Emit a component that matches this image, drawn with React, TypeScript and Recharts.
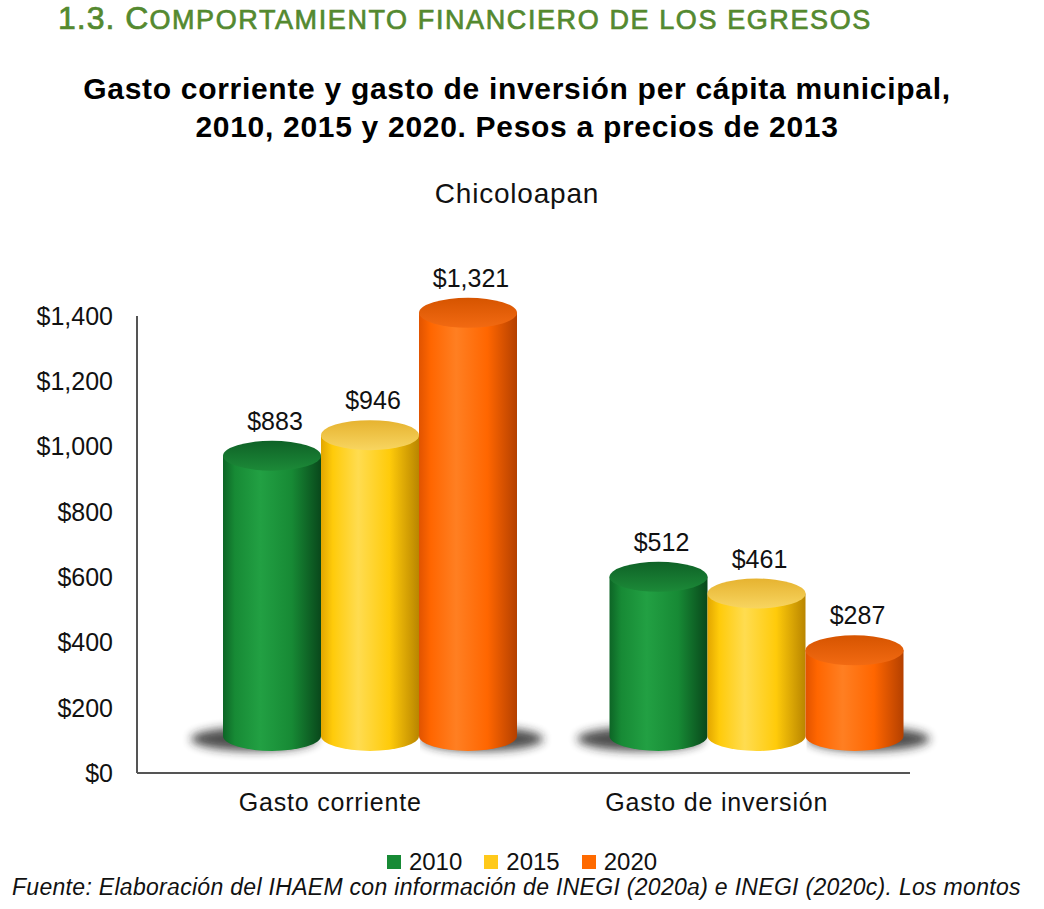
import React from "react";
import { BarChart, Bar, XAxis, YAxis, LabelList } from "recharts";

const categories = ["Gasto corriente", "Gasto de inversión"];
const years = ["2010", "2015", "2020"];
const values2010 = [883, 512];
const values2015 = [946, 461];
const values2020 = [1321, 287];
const yTicks = [0, 200, 400, 600, 800, 1000, 1200, 1400];

const seriesValues = [values2010, values2015, values2020];

const data = categories.map((name, i) => {
    const row: Record<string, string | number> = { name };
    years.forEach((yr, k) => {
        row["y" + yr] = seriesValues[k][i];
    });
    return row;
});

// colours for the cylinders; shadow = which side the floor shadow spills out
const palettes = [
    { key: "2010", shadow: "left", swatch: "#178a35", edgeL: "#0d6526", hi: "#22a043", body: "#178a35", edgeR: "#09481b", topA: "#1c8a38", topB: "#0f6227" },
    { key: "2015", shadow: "none", swatch: "#ffc91a", edgeL: "#e2a600", hi: "#ffdc50", body: "#ffcb0a", edgeR: "#b98500", topA: "#f8d560", topB: "#e6b330" },
    { key: "2020", shadow: "right", swatch: "#ff6a00", edgeL: "#e05300", hi: "#ff7f22", body: "#ff6600", edgeR: "#b44000", topA: "#f26a12", topB: "#d65400" },
];

const DX = 40; // 3D offset of the cylinders
const TOP_DY = -29;
const BOT_DY = -37;
const RY = 15;

const fontFamily = "'Liberation Sans', Arial, Helvetica, sans-serif";

function Cylinder(props: any) {
    const { x, y, width, height, pal, index } = props;
    if (width == null || height == null) return null;
    const x0 = x + DX;
    const x1 = x0 + width;
    const rx = width / 2;
    const yT = y + TOP_DY;
    const yB = y + height + BOT_DY;
    const id = "cyl" + pal.key;
    const clipId = id + "c" + index;

    let shadow = null;
    if (pal.shadow === "left") {
        shadow = (
            <ellipse cx={x0 + rx - 18} cy={yB + 3} rx={rx + 14} ry={12} fill="#222" opacity={0.8} filter="url(#cylShadow)" />
        );
    } else if (pal.shadow === "right") {
        shadow = (
            <g clipPath={`url(#${clipId})`}>
                <ellipse cx={x0 + rx + 14} cy={yB + 3} rx={rx + 12} ry={12} fill="#222" opacity={0.8} filter="url(#cylShadow)" />
            </g>
        );
    }

    return (
        <g>
            <defs>
                <linearGradient id={id + "b"} x1="0" y1="0" x2="1" y2="0">
                    <stop offset="0%" stopColor={pal.edgeL} />
                    <stop offset="12%" stopColor={pal.body} />
                    <stop offset="38%" stopColor={pal.hi} />
                    <stop offset="70%" stopColor={pal.body} />
                    <stop offset="100%" stopColor={pal.edgeR} />
                </linearGradient>
                <linearGradient id={id + "t"} x1="0" y1="0" x2="0" y2="1">
                    <stop offset="0%" stopColor={pal.topB} />
                    <stop offset="100%" stopColor={pal.topA} />
                </linearGradient>
                <filter id="cylShadow" x="-50%" y="-100%" width="200%" height="300%">
                    <feGaussianBlur stdDeviation="5" />
                </filter>
                <clipPath id={clipId}>
                    <rect x={x0 + 1} y={yB - 40} width={width + 60} height={80} />
                </clipPath>
            </defs>
            {shadow}
            <path
                d={`M${x0},${yT} L${x0},${yB} A${rx},${RY} 0 0 0 ${x1},${yB} L${x1},${yT} Z`}
                fill={`url(#${id}b)`}
            />
            <ellipse cx={x0 + rx} cy={yT} rx={rx} ry={RY} fill={`url(#${id}t)`} />
        </g>
    );
}

function ValueLabel(props: any) {
    const { x, y, width, value } = props;
    return (
        <text
            x={x + DX + width / 2 + 3}
            y={y + TOP_DY - 26}
            textAnchor="middle"
            fontSize={25}
            fontFamily={fontFamily}
            fill="#111"
        >
            {"$" + Number(value).toLocaleString("en-US")}
        </text>
    );
}

const money = (v: number) => "$" + v.toLocaleString("en-US");

export default function App() {
    return (
        <div
            style={{
                position: "absolute",
                left: 0,
                top: 0,
                width: 1044,
                height: 909,
                background: "#fff",
                fontFamily,
                overflow: "hidden",
            }}
        >
            <div
                style={{
                    position: "absolute",
                    left: 58,
                    top: 0,
                    color: "#54892f",
                    whiteSpace: "nowrap",
                    WebkitTextStroke: "0.7px #54892f",
                }}
            >
                <span style={{ fontSize: 32, letterSpacing: 1 }}>1.3. C</span>
                <span style={{ fontSize: 27, textTransform: "uppercase", letterSpacing: 1.6 }}>
                    omportamiento financiero de los egresos
                </span>
            </div>
            <div
                style={{
                    position: "absolute",
                    left: 0,
                    width: 1034,
                    top: 70,
                    textAlign: "center",
                    fontWeight: "bold",
                    fontSize: 30,
                    letterSpacing: 0.7,
                    lineHeight: "38px",
                    color: "#000",
                }}
            >
                Gasto corriente y gasto de inversión per cápita municipal,
                <br />
                2010, 2015 y 2020. Pesos a precios de 2013
            </div>
            <div
                style={{
                    position: "absolute",
                    left: 0,
                    width: 1034,
                    top: 178,
                    textAlign: "center",
                    fontSize: 28,
                    letterSpacing: 0.8,
                    color: "#111",
                }}
            >
                Chicoloapan
            </div>

            <div style={{ position: "absolute", left: 0, top: 0 }}>
                <BarChart
                    width={1044}
                    height={909}
                    data={data}
                    margin={{ top: 316, right: 134, bottom: 106, left: 37 }}
                    barGap={0}
                    barSize={98}
                >
                    <XAxis
                        dataKey="name"
                        height={30}
                        tickLine={false}
                        tickSize={0}
                        tickMargin={20}
                        axisLine={{ stroke: "#555", strokeWidth: 2 }}
                        tick={{ fill: "#111", fontSize: 25, fontFamily, letterSpacing: 0.8 }}
                    />
                    <YAxis
                        width={100}
                        domain={[0, 1400]}
                        ticks={yTicks}
                        interval={0}
                        tickLine={false}
                        tickSize={0}
                        tickMargin={24}
                        tickFormatter={money}
                        axisLine={{ stroke: "#555", strokeWidth: 2 }}
                        tick={{ fill: "#111", fontSize: 25, fontFamily }}
                    />
                    {palettes.map((pal) => (
                        <Bar
                            key={pal.key}
                            dataKey={"y" + pal.key}
                            isAnimationActive={false}
                            shape={(p: any) => <Cylinder {...p} pal={pal} />}
                        >
                            <LabelList dataKey={"y" + pal.key} content={ValueLabel} />
                        </Bar>
                    ))}
                </BarChart>
            </div>

            <div
                style={{
                    position: "absolute",
                    left: 0,
                    width: 1044,
                    top: 848,
                    display: "flex",
                    justifyContent: "center",
                    fontSize: 24,
                    color: "#111",
                    lineHeight: "28px",
                }}
            >
                {palettes.map((pal, i) => (
                    <div key={pal.key} style={{ display: "flex", alignItems: "center", marginLeft: i ? 22 : 0 }}>
                        <span style={{ width: 14, height: 14, background: pal.swatch, display: "inline-block", marginRight: 8 }} />
                        <span>{years[i]}</span>
                    </div>
                ))}
            </div>
            <div
                style={{
                    position: "absolute",
                    left: 12,
                    top: 874,
                    fontSize: 23,
                    letterSpacing: 0.3,
                    fontStyle: "italic",
                    color: "#111",
                    whiteSpace: "nowrap",
                }}
            >
                Fuente: Elaboración del IHAEM con información de INEGI (2020a) e INEGI (2020c). Los montos
            </div>
        </div>
    );
}
